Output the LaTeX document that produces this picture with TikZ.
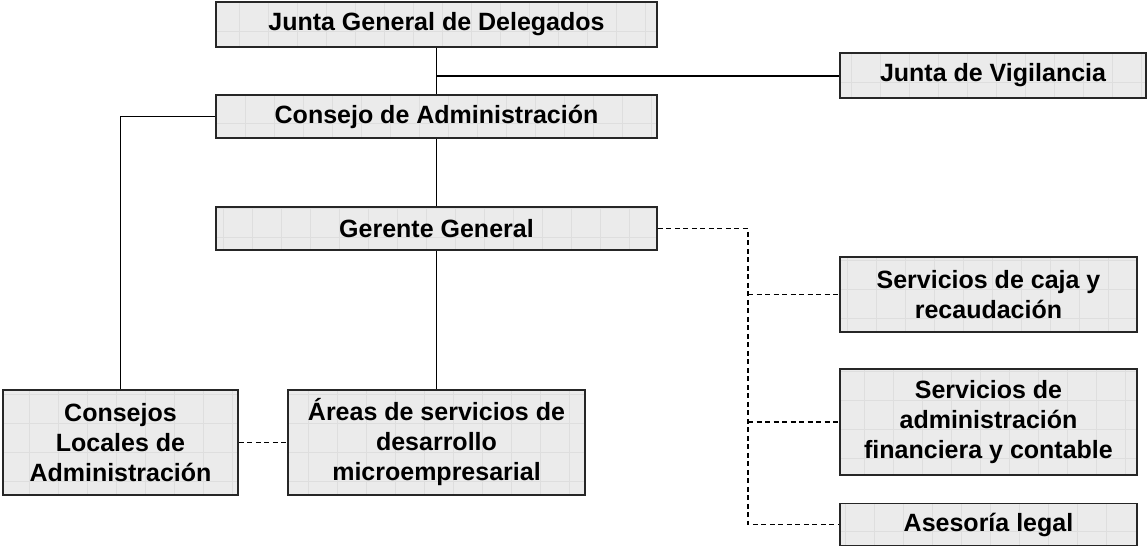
\documentclass[tikz,border=0pt]{standalone}
\usepackage{fontspec}
\setmainfont{Liberation Sans}
\begin{document}
\begin{tikzpicture}[x=1pt,y=-1pt,
  orgbox/.style={draw=black!85, line width=1.5pt, fill=black!8, align=center,
    font=\fontsize{25}{30}\selectfont\bfseries, inner sep=0pt,
    path picture={\draw[black!13, line width=0.5pt, step=29pt]
      (path picture bounding box.south west) grid (path picture bounding box.north east);}},
  link/.style={line width=1.2pt, black},
  dlink/.style={line width=1.1pt, black, dash pattern=on 5pt off 3.5pt}]
\useasboundingbox (0,0) rectangle (1148,547);
\node[orgbox, minimum width=441pt, minimum height=45pt] (jg) at (436.5,24.5) {Junta General de Delegados};
\node[orgbox, minimum width=306pt, minimum height=45pt] (vig) at (993,75.5) {Junta de Vigilancia};
\node[orgbox, minimum width=441pt, minimum height=43pt] (ca) at (436.5,116.5) {Consejo de Administración};
\node[orgbox, minimum width=441pt, minimum height=43pt] (gg) at (436.5,228.5) {Gerente General};
\node[orgbox, minimum width=235pt, minimum height=105pt] (cl) at (120.5,442.5) {Consejos\\Locales de\\Administración};
\node[orgbox, minimum width=297pt, minimum height=105pt] (ar) at (436.5,442.5) {Áreas de servicios de\\desarrollo\\microempresarial};
\node[orgbox, minimum width=297pt, minimum height=75pt] (sc) at (988.5,294.5) {Servicios de caja y\\recaudación};
\node[orgbox, minimum width=297pt, minimum height=106pt] (sa) at (988.5,422) {Servicios de\\administración\\financiera y contable};
\node[orgbox, minimum width=297pt, minimum height=42pt] (al) at (988.5,524.5) {Asesoría legal};
\coordinate (jv) at (436.5,76);
\coordinate (cacorner) at (120.5,116.5);
\coordinate (gcorner) at (748,228.5);
% solid links
\draw[link] (jg.south) -- (ca.north);
\draw[link] (jv) -- (vig.west |- jv);
\draw[link] (ca.south) -- (gg.north);
\draw[link] (gg.south) -- (ar.north);
\draw[link] (ca.west) -- (cacorner) -- (cl.north);
% dashed links
\draw[dlink] (cl.east) -- (ar.west);
\draw[dlink] (gg.east) -- (gcorner) -- (gcorner |- al.west) -- (al.west);
\draw[dlink] (gcorner |- sc.west) -- (sc.west);
\draw[dlink] (gcorner |- sa.west) -- (sa.west);
\end{tikzpicture}
\end{document}
